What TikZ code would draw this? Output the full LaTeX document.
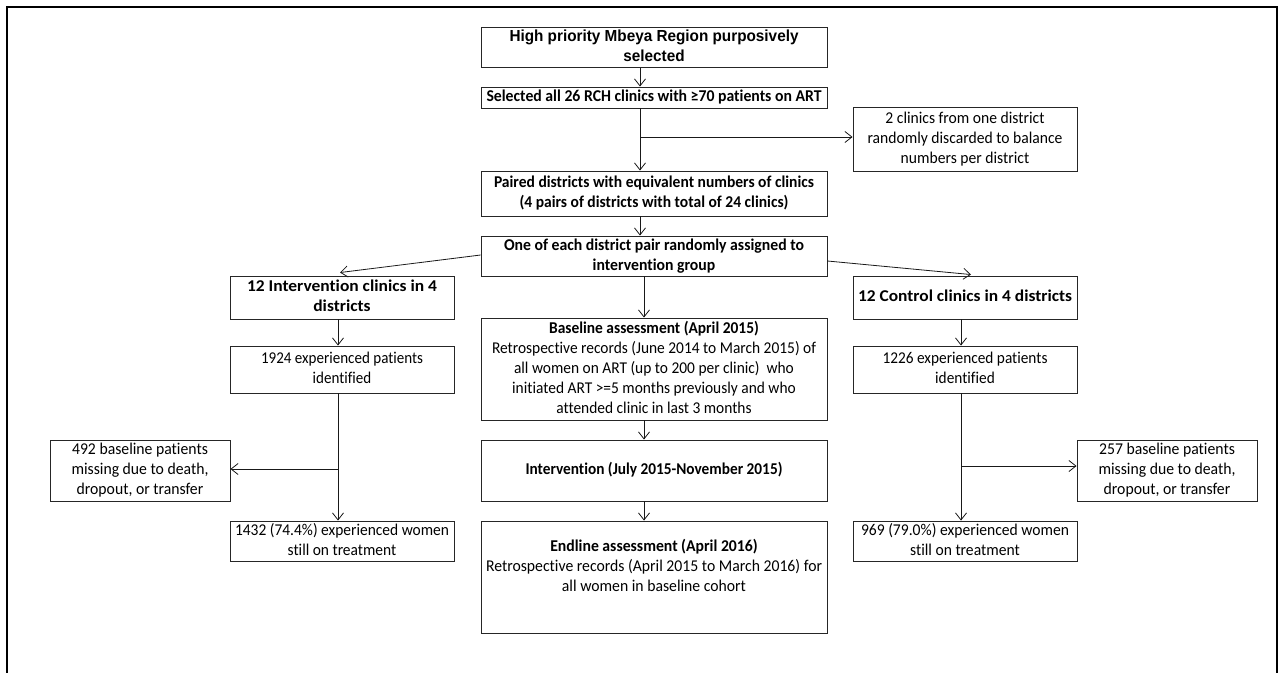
\documentclass[tikz,border=0pt]{standalone}
\usepackage{fontspec}
\usepackage{graphicx}
\setmainfont{Carlito}[Ligatures=NoCommon]
\newfontfamily\arialb{Liberation Sans}[BoldFont={* Bold}]
\usetikzlibrary{arrows.meta,calc}
\newlength\fitw
\newcommand\fit[3]{\settowidth\fitw{#2}\pgfmathsetmacro\fitr{#1/\fitw}%
  \scalebox{\fitr}[1]{\begin{tabular}{@{}c@{}}#3\end{tabular}}}
\begin{document}
\begin{tikzpicture}[x=1pt,y=-1pt,
  box/.style={draw=black!85, line width=0.9pt, inner sep=0pt,
    font=\fontsize{16.5}{20}\selectfont},
  bbox/.style={box, font=\fontsize{16.5}{20}\selectfont\bfseries},
  arr/.style={draw=black!90, line width=0.8pt, -{Straight Barb[length=7pt,width=11pt,line width=0.8pt]}},
  ln/.style={draw=black!90, line width=0.8pt}]
\useasboundingbox (0,0) rectangle (1282,672);
\draw[line width=2pt] (7,680) -- (7,7) -- (1277,7) -- (1277,680);

\node[box, font=\arialb\bfseries\fontsize{16}{20}\selectfont, minimum width=346pt, minimum height=39pt] (b1) at (654,47.5)
  {\fit{289}{High priority Mbeya Region purposively}{High priority Mbeya Region purposively\\ selected}};
\node[bbox, minimum width=346pt, minimum height=21pt] (b2) at (654,97.5)
  {\fit{335}{Selected all 26 RCH clinics with ≥70 patients on ART}{Selected all 26 RCH clinics with ≥70 patients on ART}};
\node[box, minimum width=224pt, minimum height=64pt] (disc) at (965,139)
  {\fit{195}{randomly discarded to balance}{2 clinics from one district\\ randomly discarded to balance\\ numbers per district}};
\node[bbox, minimum width=346pt, minimum height=45pt] (b4) at (654,193.5)
  {\fit{320}{Paired districts with equivalent numbers of clinics}{Paired districts with equivalent numbers of clinics\\ (4 pairs of districts with total of 24 clinics)}};
\node[bbox, minimum width=346pt, minimum height=40pt] (b5) at (654,256)
  {\fit{300}{One of each district pair randomly assigned to}{One of each district pair randomly assigned to\\ intervention group}};
\node[bbox, minimum width=224pt, minimum height=43pt] (int) at (342,297.5)
  {\fit{190}{12 Intervention clinics in 4}{12 Intervention clinics in 4\\ districts}};
\node[bbox, minimum width=224pt, minimum height=43pt] (ctl) at (965,297.5)
  {\fit{214}{12 Control clinics in 4 districts}{12 Control clinics in 4 districts}};
\node[box, minimum width=346pt, minimum height=102pt] (base) at (654,369)
  {\fit{324}{Retrospective records (June 2014 to March 2015) of}{\textbf{Baseline assessment (April 2015)}\\
   Retrospective records (June 2014 to March 2015) of\\
   all women on ART (up to 200 per clinic) \ who\\
   initiated ART >=5 months previously and who\\
   attended clinic in last 3 months}};
\node[box, minimum width=224pt, minimum height=47pt] (n1924) at (342,369.5)
  {\fit{162}{1924 experienced patients}{1924 experienced patients\\ identified}};
\node[box, minimum width=224pt, minimum height=47pt] (n1226) at (965,369.5)
  {\fit{165}{1226 experienced patients}{1226 experienced patients\\ identified}};
\node[bbox, minimum width=346pt, minimum height=61pt] (intv) at (654,470.5)
  {\fit{257}{Intervention (July 2015-November 2015)}{Intervention (July 2015-November 2015)}};
\node[box, minimum width=180pt, minimum height=61pt] (m492) at (140,470.5)
  {\fit{137}{missing due to death,}{492 baseline patients\\ missing due to death,\\ dropout, or transfer}};
\node[box, minimum width=180pt, minimum height=61pt] (m257) at (1167,470.5)
  {\fit{137}{missing due to death,}{257 baseline patients\\ missing due to death,\\ dropout, or transfer}};
\node[box, minimum width=224pt, minimum height=40pt] (n1432) at (342,541)
  {\fit{214}{1432 (74.4\%) experienced women}{1432 (74.4\%) experienced women\\ still on treatment}};
\node[box, minimum width=224pt, minimum height=40pt] (n969) at (965,541)
  {\fit{208}{969 (79.0\%) experienced women}{969 (79.0\%) experienced women\\ still on treatment}};
\node[box, minimum width=346pt, minimum height=112pt] (end) at (654,577)
  {\fit{336}{Retrospective records (April 2015 to March 2016) for}{\textbf{Endline assessment (April 2016)}\\
   Retrospective records (April 2015 to March 2016) for\\
   all women in baseline cohort\\ \mbox{}}};

\coordinate (cx) at (640,0);
\coordinate (cy) at (644,0);
\coordinate (lx) at (338,0);
\coordinate (rx) at (961,0);
\coordinate (br1) at (640,137);
\coordinate (br2) at (338,469);
\coordinate (br3) at (961,466);

\draw[arr] (b1.south -| cx) -- (b2.north -| cx);
\draw[arr] (b2.south -| cx) -- (b4.north -| cx);
\draw[arr] (br1) -- (disc.west |- br1);
\draw[arr] (b4.south -| cx) -- (b5.north -| cx);
\draw[arr] ($(b5.west)+(0,-1)$) -- ($(int.north)+(-2,-3)$);
\draw[arr] ($(b5.east)+(0,5)$) -- ($(ctl.north)+(6,-1)$);
\draw[arr] (b5.south -| cy) -- (base.north -| cy);
\draw[arr] (base.south -| cy) -- (intv.north -| cy);
\draw[arr] (intv.south -| cy) -- (end.north -| cy);
\draw[arr] (int.south -| lx) -- (n1924.north -| lx);
\draw[arr] (n1924.south -| lx) -- (n1432.north -| lx);
\draw[arr] (br2) -- (m492.east |- br2);
\draw[arr] (ctl.south -| rx) -- (n1226.north -| rx);
\draw[arr] (n1226.south -| rx) -- (n969.north -| rx);
\draw[arr] (br3) -- (m257.west |- br3);
\end{tikzpicture}
\end{document}
